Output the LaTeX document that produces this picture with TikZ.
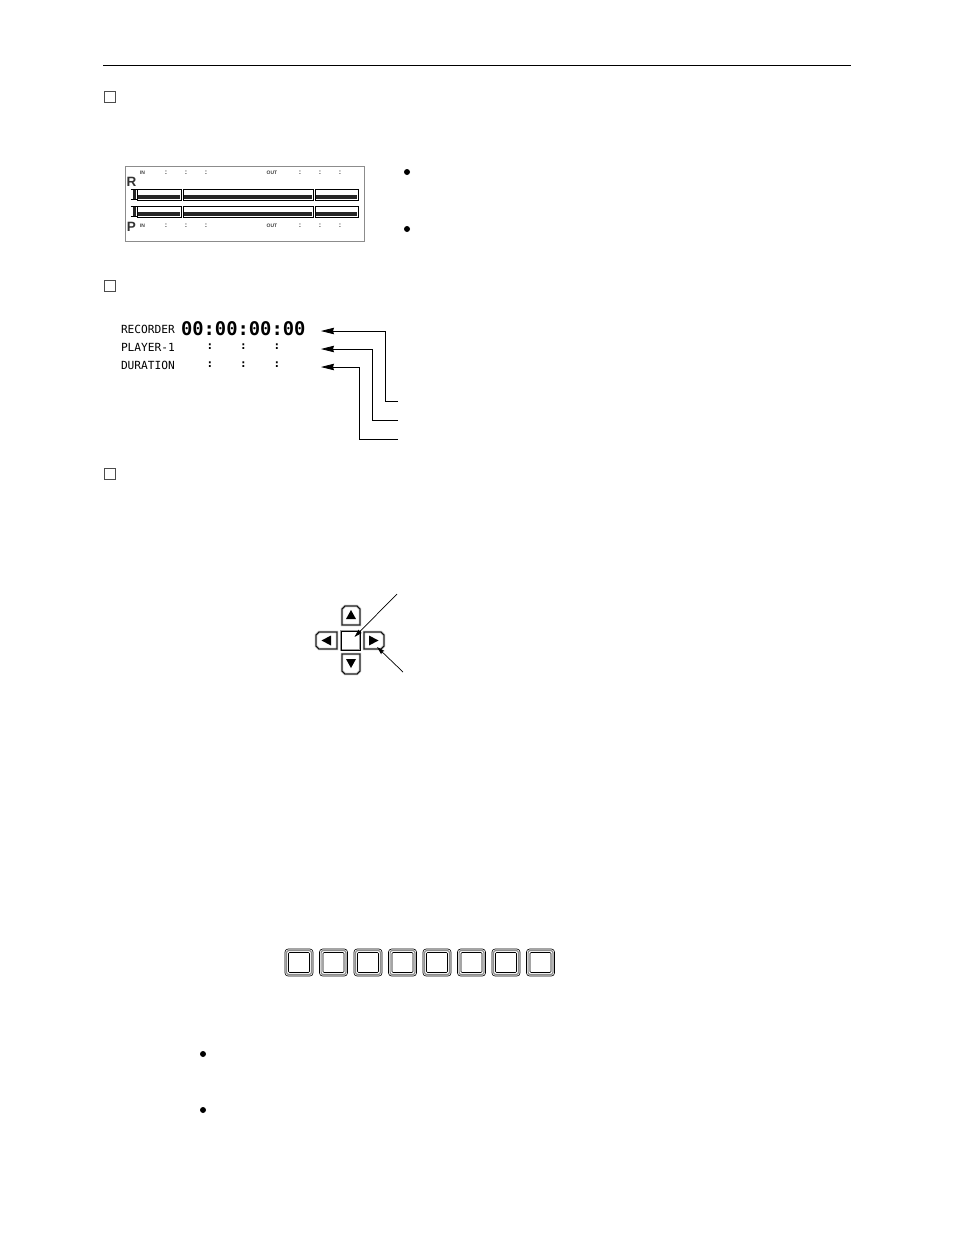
\documentclass[tikz,border=0pt]{standalone}
\usepackage{fontspec}
\setmainfont{Liberation Sans}
\newfontfamily\lcdmono{DejaVu Sans Mono}
\usetikzlibrary{arrows.meta}
\begin{document}
\begin{tikzpicture}[x=1pt,y=-1pt,
  every node/.style={inner sep=0pt, outer sep=0pt},
  secbox/.style={draw=black!70, line width=0.8pt, minimum size=11pt},
  tiny/.style={font=\bfseries\fontsize{5}{5}\selectfont, text=black!75},
  tcol/.style={font=\bfseries\fontsize{7}{7}\selectfont, text=black!75},
  big/.style={font=\bfseries\fontsize{13.5}{13.5}\selectfont, text=black!80},
  lcd/.style={font=\lcdmono\fontsize{11.2}{11.2}\selectfont, anchor=west},
  rowcol/.style={font=\lcdmono\bfseries\fontsize{11}{11}\selectfont},
  ptr/.style={-{Stealth[length=13pt,width=6.5pt,inset=1pt]}, line width=0.8pt},
  sptr/.style={-{Stealth[length=8pt,width=4.5pt,inset=1pt]}, line width=0.7pt},
  bullet/.style={circle, fill=black, minimum size=6pt},
  keyhalo/.style={draw=black!40, line width=2.2pt},
  keyline/.style={draw=black, line width=0.7pt}
]
\useasboundingbox (0,0) rectangle (954,1235);
\fill[white] (0,0) rectangle (954,1235);

% top rule
\draw[line width=1pt] (103,65.5) -- (851,65.5);

% section squares
\node[secbox] (sq1) at (110,96.5) {};
\node[secbox] (sq2) at (110,286) {};
\node[secbox] (sq3) at (110,474) {};

% ---------- display box ----------
\node[draw=black!45, line width=0.9pt, minimum width=239pt, minimum height=75pt, anchor=north west] (disp) at (125,166) {};
\node[big] (R) at (131.5,182) {R};
\node[big] (P) at (131.5,227) {P};
\foreach \yy/\nm in {173/t, 226/b}{
  \node[tiny, anchor=west] (in\nm) at (140,\yy) {IN};
  \node[tiny] (out\nm) at (272,\yy) {OUT};
  \foreach \xx in {166,186,206,300,320,340}{
    \node[tcol] at (\xx,\yy) {:};
  }
}
\foreach \yy in {189,206}{
  \foreach \xa/\xb in {137/181,183/313,315/358}{
    \draw[line width=0.8pt, fill=white] (\xa,\yy) rectangle (\xb,\yy+11.5);
    \fill[black!85] (\xa+0.8,\yy+6) rectangle (\xb-0.8,\yy+9.5);
  }
  % left markers
  \draw[line width=3pt, black!85] (134,\yy+0.5) -- (134,\yy+11);
  \draw[line width=1.2pt] (130.5,\yy+0.8) -- (137.5,\yy+0.8);
  \draw[line width=1.2pt] (130.5,\yy+10.8) -- (137.5,\yy+10.8);
}
\node[bullet] (b1) at (407,172) {};
\node[bullet] (b2) at (407,229) {};

% ---------- time code ----------
\node[lcd] (rec) at (121,329) {RECORDER};
\node[lcd] (ply) at (121,347) {PLAYER-1};
\node[lcd] (dur) at (121,365) {DURATION};
\node[font=\lcdmono\bfseries\fontsize{18.8}{18.8}\selectfont, anchor=west] (tc) at (181,329) {00:00:00:00};
\foreach \yy in {347,365}{
  \foreach \xx in {210,243.5,277}{
    \node[rowcol] at (\xx,\yy) {:};
  }
}
\coordinate (t1) at (321,331);
\coordinate (t2) at (321,349);
\coordinate (t3) at (321,367);
\coordinate (e1) at (398,401.5);
\coordinate (e2) at (398,420);
\coordinate (e3) at (398,439);
\draw[ptr] (e1) -- (385,401.5) -- (385,331) -- (t1);
\draw[ptr] (e2) -- (372,420) -- (372,349) -- (t2);
\draw[ptr] (e3) -- (359,439) -- (359,367) -- (t3);

% ---------- arrow keys ----------
\def\upkey{(342,625) -- (342,609) -- (345,606) -- (357,606) -- (360,609) -- (360,625) -- cycle}
\def\downkey{(342,654) -- (360,654) -- (360,671) -- (357,674) -- (345,674) -- (342,671) -- cycle}
\def\leftkey{(337,632) -- (319,632) -- (316,635) -- (316,646) -- (319,649) -- (337,649) -- cycle}
\def\rightkey{(364,632) -- (381,632) -- (384,635) -- (384,646) -- (381,649) -- (364,649) -- cycle}
\def\centerkey{(341,631) rectangle (360,650)}
\foreach \k in {\upkey,\downkey,\leftkey,\rightkey,\centerkey}{
  \draw[keyhalo] \k;
  \draw[keyline] \k;
}
\fill (351,610) -- (356,619) -- (346,619) -- cycle;
\fill (351,668) -- (356,659) -- (346,659) -- cycle;
\fill (321.5,640.5) -- (331,635.5) -- (331,645.5) -- cycle;
\fill (378.5,640.5) -- (369,635.5) -- (369,645.5) -- cycle;
\coordinate (kc) at (354.5,637);
\coordinate (kr) at (377,647);
\coordinate (l1) at (397,594);
\coordinate (l2) at (403,672);
\draw[sptr] (l1) -- (kc);
\draw[sptr] (l2) -- (kr);

% ---------- button row ----------
\foreach \i in {0,...,7}{
  \pgfmathsetmacro{\bx}{285+34.5*\i}
  \node[draw=black, line width=0.6pt, rounded corners=3pt, minimum width=28pt, minimum height=27pt, anchor=north west] (btn\i) at (\bx,949) {};
  \draw[black!45, line width=1.2pt, rounded corners=2pt] (\bx+1.6,950.6) rectangle (\bx+26.4,974.4);
  \draw[black, line width=0.6pt, rounded corners=1pt] (\bx+3.5,952.5) rectangle (\bx+24.5,972.5);
}

\node[bullet] (b3) at (203,1054) {};
\node[bullet] (b4) at (203,1110) {};
\end{tikzpicture}
\end{document}
